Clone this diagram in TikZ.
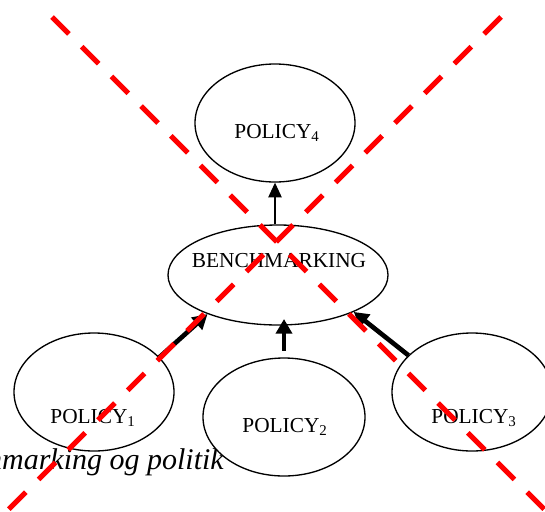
\documentclass[tikz,border=0pt]{standalone}
\usepackage{fontspec}
\setmainfont{Liberation Serif}
\usetikzlibrary{shapes.geometric,arrows.meta}

\begin{document}
\begin{tikzpicture}[x=0.75pt,y=-0.75pt,
every node/.style={font=\fontsize{16}{19}\selectfont},
blob/.style={ellipse,draw,line width=1pt,fill=white,minimum width=120pt,minimum height=88.5pt},
lbl/.style={anchor=base,inner sep=0pt},
caption/.style={anchor=base east,inner sep=0pt,font=\fontsize{22.5}{26}\selectfont\itshape},
thin arrow/.style={line width=1pt,-{Triangle[length=11pt,width=10pt]}},
fat arrow/.style={line width=3.5pt,-{Triangle[length=11pt,width=12pt]}},
cross/.style={red,line width=3.75pt,dash pattern=on 18pt off 13.5pt}]
\useasboundingbox (0,0) rectangle (545,511);
\fill[white] (0,0) rectangle (545,511);

\node[caption](cap) at (224,469){Benchmarking og politik};

\node[blob](P4) at (275,123){};
\node[blob,minimum width=165pt,minimum height=75pt](B) at (278,275){};
\node[blob,minimum width=121.5pt](P2) at (284,417){};
\node[blob](P1) at (94,392){};
\node[blob](P3) at (472,392){};

\node[lbl](T4) at (277,138){POLICY\textsubscript{4}};
\node[lbl](TB) at (279,267){BENCHMARKING};
\node[lbl](T2) at (285,432){POLICY\textsubscript{2}};
\node[lbl](T1) at (93,423){POLICY\textsubscript{1}};
\node[lbl](T3) at (474,423){POLICY\textsubscript{3}};

\draw[thin arrow](B.north -| P4.south)--(P4.south);
\draw[fat arrow](P1.28)--(B.209);
\draw[fat arrow,shorten <=5pt,shorten >=-5pt](P2.north)--(P2.north |- B.south);
\draw[fat arrow](P3.150)--(B.334);

\coordinate(NW) at (52,17);
\coordinate(SE) at (545,510);
\coordinate(NE) at (501,17);
\coordinate(SW) at (7,511);
\draw[cross](NW)--(SE);
\draw[cross](NE)--(SW);

\end{tikzpicture}
\end{document}
